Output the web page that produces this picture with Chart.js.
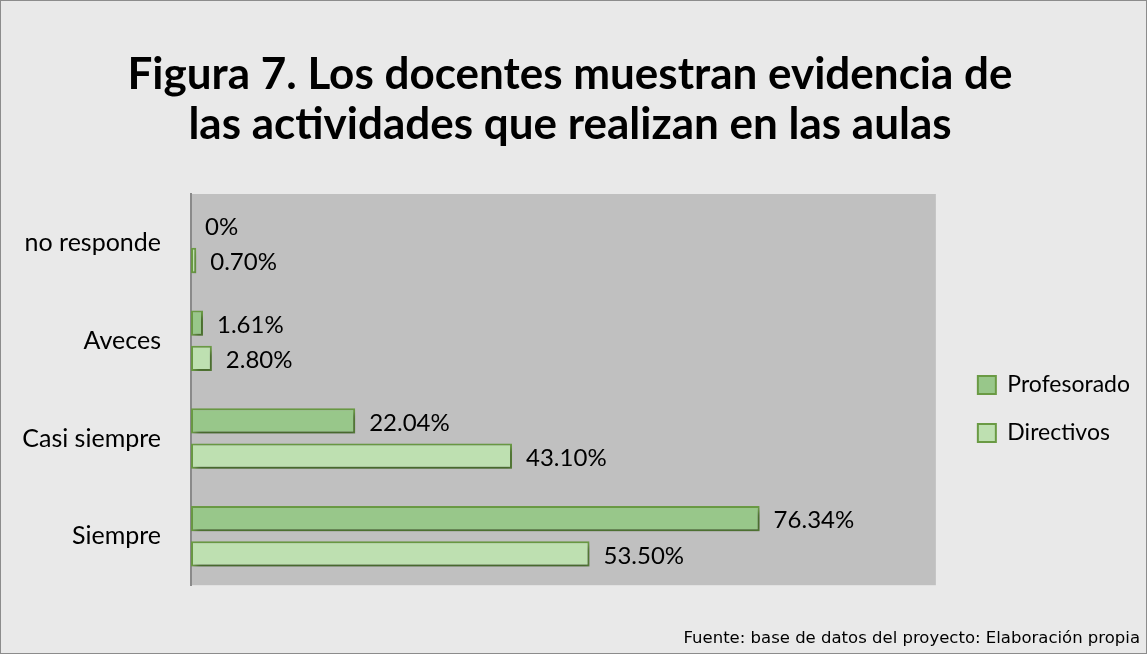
<!DOCTYPE html>
<html>
<head>
<meta charset="utf-8">
<script src="https://cdn.jsdelivr.net/npm/chart.js@4"></script>
<style>
  html, body { margin: 0; padding: 0; background: #e9e9e9; }
  #wrap { width: 1147px; height: 654px; position: relative; }
</style>
</head>
<body>
<div id="wrap"><canvas id="chart"></canvas></div>
<script>
const categorias = ['no responde', 'Aveces', 'Casi siempre', 'Siempre'];
const profesorado = [0, 1.61, 22.04, 76.34];
const directivos = [0.70, 2.80, 43.10, 53.50];
const etiquetasProf = ['0%', '1.61%', '22.04%', '76.34%'];
const etiquetasDir = ['0.70%', '2.80%', '43.10%', '53.50%'];

const FONT = "Lato, 'Open Sans', sans-serif";

// frame, gray plot area and shadow behind the bars
const fondo = {
    id: 'fondo',
    beforeDraw(chart) {
        const { ctx, chartArea: a, width, height } = chart;
        ctx.save();
        ctx.fillStyle = '#e9e9e9';
        ctx.fillRect(0, 0, width, height);
        ctx.strokeStyle = '#8c8c8c';
        ctx.lineWidth = 1;
        ctx.strokeRect(0.5, 0.5, width - 1, height - 1);
        ctx.fillStyle = '#c0c0c0';
        ctx.fillRect(a.left, a.top, a.right - a.left, a.bottom - a.top);
        ctx.restore();
    },
    beforeDatasetsDraw(chart) {
        const ctx = chart.ctx;
        ctx.save();
        ctx.shadowColor = 'rgba(0,0,0,0.35)';
        ctx.shadowOffsetX = 3;
        ctx.shadowOffsetY = 4;
        ctx.shadowBlur = 5;
    },
    afterDatasetsDraw(chart) {
        chart.ctx.restore();
    }
};

// value labels to the right of each bar
const etiquetas = {
    id: 'etiquetas',
    afterDatasetsDraw(chart) {
        const ctx = chart.ctx;
        const textos = [etiquetasProf, etiquetasDir];
        ctx.save();
        ctx.font = '24px ' + FONT;
        ctx.fillStyle = '#000';
        ctx.textBaseline = 'middle';
        chart.data.datasets.forEach((ds, i) => {
            chart.getDatasetMeta(i).data.forEach((bar, j) => {
                ctx.fillText(textos[i][j], bar.x + 14, bar.y + 2);
            });
        });
        ctx.restore();
    }
};

new Chart(document.getElementById('chart'), {
    type: 'bar',
    data: {
        labels: categorias,
        datasets: [
            {
                label: 'Profesorado',
                data: profesorado,
                backgroundColor: '#98c78a',
                borderColor: '#6a9a44',
                borderWidth: 2,
                borderSkipped: false
            },
            {
                label: 'Directivos',
                data: directivos,
                backgroundColor: '#bee0b1',
                borderColor: '#6a9a44',
                borderWidth: 2,
                borderSkipped: false
            }
        ]
    },
    options: {
        indexAxis: 'y',
        responsive: true,
        maintainAspectRatio: false,
        animation: false,
        categoryPercentage: 0.72,
        barPercentage: 0.72,
        layout: { padding: { left: 0, right: 7, top: 0, bottom: 0 } },
        scales: {
            x: {
                min: 0,
                max: 100,
                display: false
            },
            y: {
                grid: { display: false },
                border: { display: true, color: '#8a8a8a', width: 2 },
                ticks: { color: '#000', font: { family: FONT, size: 25 }, padding: 22 },
                afterFit(s) { s.width = 191; }
            },
            gap: {
                type: 'category',
                position: 'right',
                grid: { display: false },
                border: { display: false },
                ticks: { display: false },
                afterFit(s) { s.width = 17; }
            }
        },
        plugins: {
            title: {
                display: true,
                text: ['Figura 7. Los docentes muestran evidencia de', 'las actividades que realizan en las aulas'],
                color: '#000',
                font: { family: FONT, size: 44, weight: 'bold', lineHeight: 50 / 44 },
                padding: { top: 50, bottom: 44 }
            },
            subtitle: {
                display: true,
                position: 'bottom',
                align: 'end',
                text: 'Fuente: base de datos del proyecto: Elaboración propia',
                color: '#000',
                font: { family: "'DejaVu Sans', sans-serif", size: 16.5, lineHeight: 1.2 },
                padding: { top: 44, bottom: 5 }
            },
            legend: {
                position: 'right',
                title: { display: true, text: '', font: { size: 4, lineHeight: 1 }, padding: { top: 0, bottom: 160 } },
                labels: {
                    color: '#000',
                    font: { family: FONT, size: 23 },
                    boxWidth: 18,
                    boxHeight: 18,
                    padding: 25
                }
            },
            tooltip: { enabled: false }
        }
    },
    plugins: [fondo, etiquetas]
});
</script>
</body>
</html>
